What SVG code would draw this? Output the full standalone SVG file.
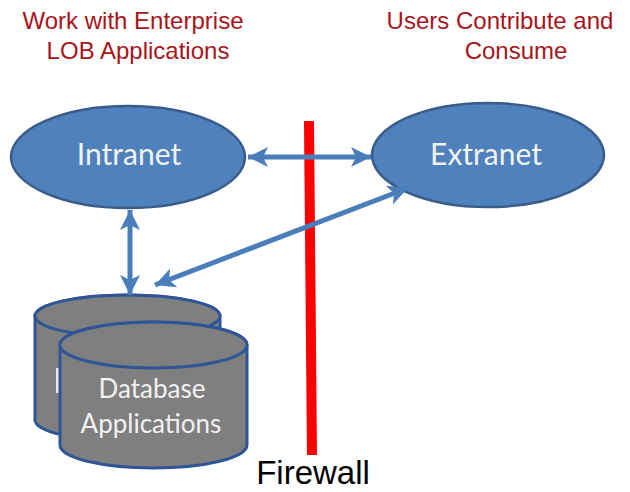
<svg xmlns="http://www.w3.org/2000/svg" width="630" height="492" viewBox="0 0 630 492">
<defs>
<style>
.hdr{font-family:"Liberation Sans",Arial,sans-serif;font-size:24px;fill:#A8141B;text-anchor:middle}
.lbl{font-family:Lato,"Open Sans",sans-serif;fill:#F2F2F2;text-anchor:middle}
.ell{fill:#4F81BD;stroke:#385D8A;stroke-width:2.5}
.cyl{fill:#7F7F7F;stroke:#2F5597;stroke-width:3}
.con{stroke:#4A7EBB;stroke-width:5;fill:none;marker-start:url(#ah);marker-end:url(#ah)}
</style>
<marker id="ah" markerUnits="userSpaceOnUse" markerWidth="22" markerHeight="22" refX="20" refY="10" orient="auto-start-reverse" viewBox="0 0 22 20">
<path d="M0,0 L20,10 L0,20 L5,10 z" fill="#4A7EBB"/>
</marker>
</defs>
<rect width="630" height="492" fill="#FFFFFF"/>
<g id="title-left">
<text class="hdr" x="133" y="29">Work with Enterprise</text>
<text class="hdr" x="138" y="59">LOB Applications</text>
</g>
<g id="title-right">
<text class="hdr" x="500" y="29">Users Contribute and</text>
<text class="hdr" x="516" y="59">Consume</text>
</g>
<g id="intranet">
<ellipse class="ell" cx="128" cy="157" rx="117" ry="51"/>
<text class="lbl" x="129" y="165" font-size="30">Intranet</text>
</g>
<g id="extranet">
<ellipse class="ell" cx="488" cy="155" rx="116" ry="52"/>
<text class="lbl" x="486" y="165" font-size="30">Extranet</text>
</g>
<g id="database">
<path class="cyl" d="M35,316 L35,420 A92.5,21 0 0 0 220,420 L220,316 A92.5,21 0 0 0 35,316 Z"/>
<ellipse class="cyl" cx="127.5" cy="316" rx="92.5" ry="21"/>
<rect x="56" y="368" width="4" height="25" fill="#E8E8E8"/>
<path class="cyl" d="M60,345 L60,445 A93.5,23 0 0 0 247,445 L247,345 A93.5,23 0 0 0 60,345 Z"/>
<ellipse class="cyl" cx="153.5" cy="345" rx="93.5" ry="23"/>
<text class="lbl" x="152" y="398" font-size="26">Database</text>
<text class="lbl" x="151" y="433" font-size="26">Applications</text>
</g>
<g id="firewall">
<line x1="309" y1="121" x2="312" y2="455" stroke="#FF0000" stroke-width="10"/>
<text x="313" y="484" font-family="'Liberation Sans',Arial,sans-serif" font-size="33" fill="#000000" text-anchor="middle">Firewall</text>
</g>
<g id="connectors">
<line class="con" x1="248" y1="157" x2="371" y2="157"/>
<line class="con" x1="130" y1="210" x2="130" y2="295"/>
<line class="con" x1="155" y1="285" x2="408" y2="188"/>
</g>
</svg>
